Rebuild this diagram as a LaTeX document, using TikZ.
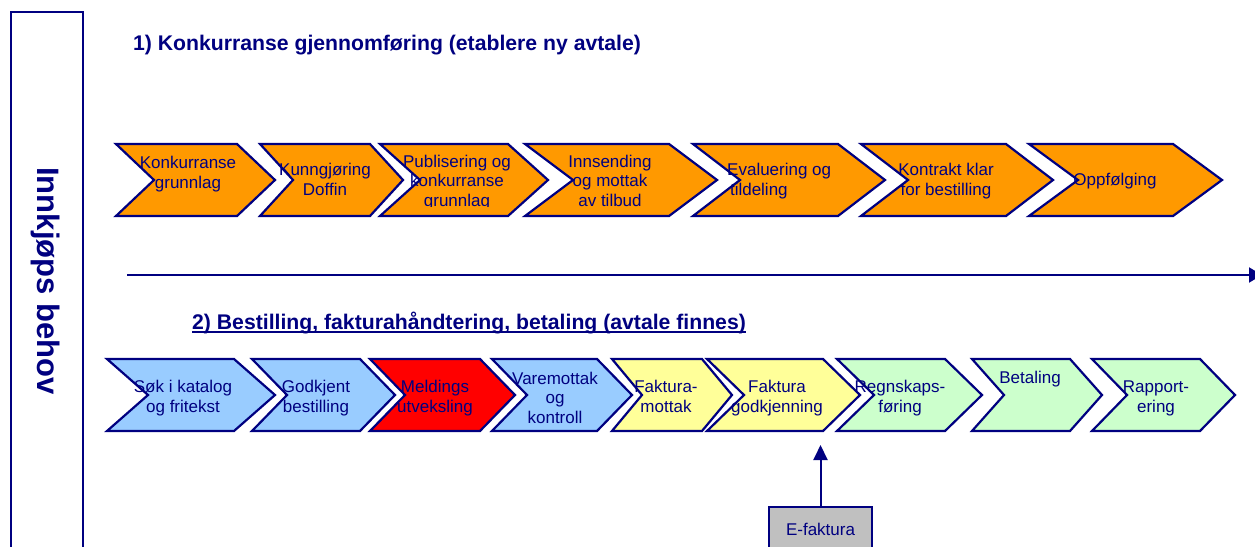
\documentclass[tikz,border=0pt]{standalone}
\usepackage{fontspec}
\setmainfont{Liberation Sans}
\usetikzlibrary{arrows.meta}

\definecolor{navy}{HTML}{000080}
\definecolor{orangefill}{HTML}{FF9900}
\definecolor{bluefill}{HTML}{99CCFF}
\definecolor{redfill}{HTML}{FF0000}
\definecolor{yellowfill}{HTML}{FFFF99}
\definecolor{greenfill}{HTML}{CCFFCC}
\definecolor{grayfill}{HTML}{C0C0C0}

% chevron: fill, left x, shoulder x, tip x, top y, bottom y
\newcommand\chev[6]{%
  \draw[chev, fill=#1] (#2,#5) -- (#3,#5) -- (#4,{(#5+#6)/2}) -- (#3,#6)
    -- (#2,#6) -- ({#2+#4-#3},{(#5+#6)/2}) -- cycle;}

% underlined text with a fixed bar position
\newcommand\ulbar[1]{\setbox0\hbox{#1}\rlap{\rule[-4pt]{\wd0}{1.6pt}}\box0}

\tikzset{
  chev/.style={draw=navy, line width=2.2pt, line join=miter},
  lbl/.style={text=navy, align=center, inner sep=0pt,
    font=\fontsize{17}{19.5}\selectfont, anchor=base},
  heading/.style={text=navy, inner sep=0pt, anchor=base west,
    font=\bfseries\fontsize{21.2}{25}\selectfont},
  link/.style={draw=navy, line width=2pt},
}

\begin{document}
\begin{tikzpicture}[x=1pt,y=-1pt]
\useasboundingbox (0,0) rectangle (1255,546);
\fill[white] (0,0) rectangle (1255,546);

% side frame
\draw[navy, line width=2.2pt] (11,12) rectangle (83,575);
\node[text=navy, inner sep=0pt, rotate=-90,
  font=\bfseries\fontsize{31}{31}\selectfont] (need) at (46,281) {Innkjøps behov};

% headings
\node[heading] (h1) at (133,50) {1) Konkurranse gjennomføring (etablere ny avtale)};
\node[heading] (h2) at (192,329) {\ulbar{2) Bestilling, fakturahåndtering, betaling (avtale finnes)}};

% time line
\coordinate (tlA) at (127,275);
\coordinate (tlB) at (1262,275);
\draw[link, -{Triangle[length=13pt,width=15pt]}] (tlA) -- (tlB);

% row 1: tender process
\chev{orangefill}{116}{237}{275}{144}{216}
\chev{orangefill}{260}{370}{403}{144}{216}
\chev{orangefill}{380}{508}{548}{144}{216}
\chev{orangefill}{525}{669}{717}{144}{216}
\chev{orangefill}{693}{838}{885}{144}{216}
\chev{orangefill}{861}{1006}{1053}{144}{216}
\chev{orangefill}{1029}{1173}{1222}{144}{216}

% labels are anchored at the baseline of their last line
\node[lbl] (t1) at (188,188) {Konkurranse\\grunnlag};
\node[lbl] (t2) at (325,195) {Kunngjøring\\Doffin};
\begin{scope}
  \clip (380,140) rectangle (560,206.5);
  \node[lbl] (t3) at (457,206) {Publisering og\\konkurranse\\grunnlag};
\end{scope}
\node[lbl] (t4) at (610,206) {Innsending\\og mottak\\av tilbud};
\node[lbl, align=left, anchor=base west] (t5) at (727,195) {Evaluering og\\\,tildeling};
\node[lbl] (t6) at (946,195) {Kontrakt klar\\for bestilling};
\node[lbl] (t7) at (1115,185) {Oppfølging};

% row 2: ordering, invoicing, payment
\chev{bluefill}{107}{234}{275}{359}{431}
\chev{bluefill}{252}{360}{395}{359}{431}
\chev{redfill}{370}{480}{515}{359}{431}
\chev{bluefill}{492}{597}{632}{359}{431}
\chev{yellowfill}{612}{702}{732}{359}{431}
\chev{yellowfill}{707}{823}{860}{359}{431}
\chev{greenfill}{837}{945}{982}{359}{431}
\chev{greenfill}{972}{1070}{1102}{359}{431}
\chev{greenfill}{1092}{1200}{1235}{359}{431}

\node[lbl] (b1) at (183,412) {Søk i katalog\\og fritekst};
\node[lbl] (b2) at (316,412) {Godkjent\\bestilling};
\node[lbl] (b3) at (435,412) {Meldings\\utveksling};
\node[lbl] (b4) at (555,423) {Varemottak\\og\\kontroll};
\node[lbl] (b5) at (666,412) {Faktura-\\mottak};
\node[lbl] (b6) at (777,412) {Faktura\\godkjenning};
\node[lbl] (b7) at (900,412) {Regnskaps-\\føring};
\node[lbl] (b8) at (1030,383) {Betaling};
\node[lbl] (b9) at (1156,412) {Rapport-\\ering};

% electronic invoice input
\node[draw=navy, line width=1.6pt, fill=grayfill, text=navy, inner sep=0pt,
  minimum width=103pt, minimum height=44pt,
  font=\fontsize{17}{19.5}\selectfont] (ef) at (820.5,529) {E-faktura};
\coordinate (efin) at (820.5,445);
\draw[link, -{Triangle[length=15pt,width=14pt]}] (ef.north) -- (efin);
\end{tikzpicture}
\end{document}
